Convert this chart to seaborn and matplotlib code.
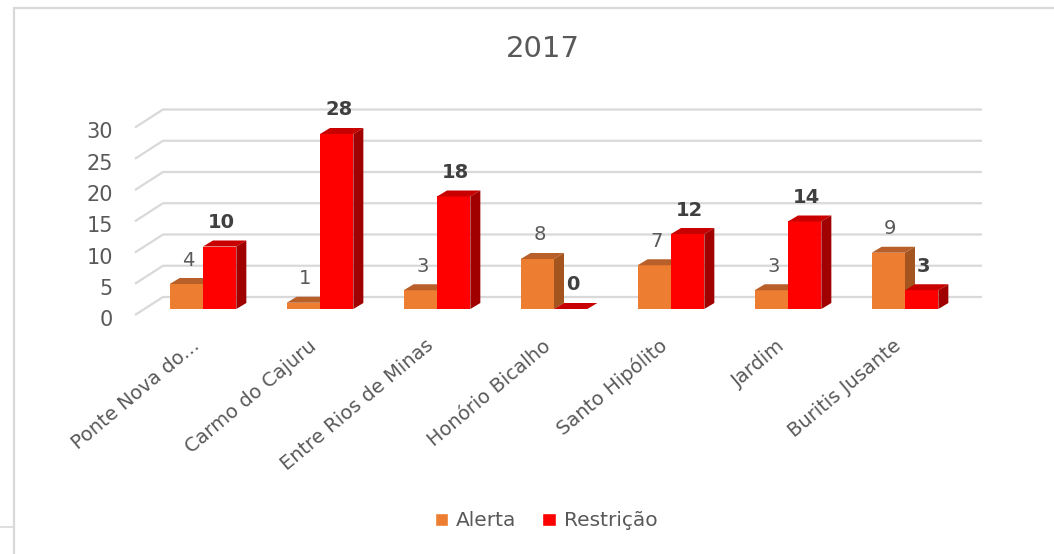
import matplotlib

matplotlib.use("Agg")
import matplotlib.pyplot as plt
import matplotlib.transforms as mtransforms
import pandas as pd
import seaborn as sns
from matplotlib.lines import Line2D
from matplotlib.patches import Polygon, Rectangle

# data
categories = [
    "Ponte Nova do...",
    "Carmo do Cajuru",
    "Entre Rios de Minas",
    "Honório Bicalho",
    "Santo Hipólito",
    "Jardim",
    "Buritis Jusante",
]
alerta = [4, 1, 3, 8, 7, 3, 9]
restricao = [10, 28, 18, 0, 12, 14, 3]
series = ["Alerta", "Restrição"]
y_ticks = [0, 5, 10, 15, 20, 25, 30]
title = "2017"

front_colors = {"Alerta": "#ED7D31", "Restrição": "#FF0000"}
top_colors = {"Alerta": "#B9602A", "Restrição": "#C80000"}
side_colors = {"Alerta": "#A4541F", "Restrição": "#A00000"}
label_style = {
    "Alerta": dict(color="#595959", fontweight="normal"),
    "Restrição": dict(color="#404040", fontweight="bold"),
}

TEXT = "#595959"
GRID = "#D9D9D9"
W, H, DPI = 1054, 554, 100
FS = 14.5

sns.set_theme(style="white")
plt.rcParams["font.family"] = ["DejaVu Sans"]

df = pd.DataFrame(
    {
        "local": categories * 2,
        "serie": [series[0]] * len(categories) + [series[1]] * len(categories),
        "valor": alerta + restricao,
    }
)

fig = plt.figure(figsize=(W / DPI, H / DPI), dpi=DPI)
# axes = front plane of the bars, 117 px per category, 6.25 px per unit
ax = fig.add_axes([144.5 / W, (H - 309) / H, 819 / W, 200 / H])
ax.set_facecolor("none")
sns.barplot(
    data=df,
    x="local",
    y="valor",
    hue="serie",
    hue_order=series,
    palette=front_colors,
    width=0.57,
    saturation=1,
    errorbar=None,
    ax=ax,
)
ax.set_xlim(-0.5, len(categories) - 0.5)
ax.set_ylim(0, 32)

px_x = 1 / 117
px_y = 1 / 6.25
ddx, ddy = 10 * px_x, 6 * px_y

# fake 3D: top and side faces for each bar
for k, (name, cont) in enumerate(zip(series, ax.containers)):
    for patch in cont:
        x0 = patch.get_x()
        x1 = x0 + patch.get_width()
        h = patch.get_height()
        patch.set_zorder(3 + 2 * k)
        patch.set_edgecolor("none")
        patch.set_clip_on(False)
        top = Polygon(
            [(x0, h), (x1, h), (x1 + ddx, h + ddy), (x0 + ddx, h + ddy)],
            closed=True, fc=top_colors[name], ec="none", zorder=3.5 + 2 * k, clip_on=False,
        )
        side = Polygon(
            [(x1, 0), (x1, h), (x1 + ddx, h + ddy), (x1 + ddx, ddy)],
            closed=True, fc=side_colors[name], ec="none", zorder=3.5 + 2 * k, clip_on=False,
        )
        ax.add_patch(top)
        ax.add_patch(side)

# value labels
for name, vals, cont in zip(series, [alerta, restricao], ax.containers):
    for patch, v in zip(cont, vals):
        ax.text(
            patch.get_x() + patch.get_width() / 2 + 2 * px_x,
            v + 24 * px_y,
            str(v),
            ha="center",
            va="center",
            fontsize=FS - 0.5,
            zorder=10,
            clip_on=False,
            **label_style[name],
        )

# gridlines on the back wall plus the slanted side wall
x_left, x_right = ax.get_xlim()
for v in y_ticks:
    xs = [x_left - 9.5 * px_x, x_left + 18.5 * px_x, x_right + 18.5 * px_x]
    ys = [v - 6 * px_y, v + 12 * px_y, v + 12 * px_y]
    ax.plot(xs, ys, color=GRID, lw=1.6, zorder=1, clip_on=False, solid_capstyle="butt")

sns.despine(ax=ax, left=True, bottom=True)
ax.set_xlabel("")
ax.set_ylabel("")
ax.set_yticks(y_ticks)
ax.set_xticks(range(len(categories)))
ax.set_xticklabels(categories)
ax.tick_params(axis="both", length=0, labelcolor=TEXT)
ax.tick_params(axis="y", pad=22.7, labelsize=FS + 0.5)
ax.tick_params(axis="x", pad=24.8, labelsize=FS - 0.5)
for lab in ax.get_xticklabels():
    lab.set_rotation(40)
    lab.set_ha("right")
    lab.set_va("center")
    lab.set_rotation_mode("anchor")
    lab.set_transform(
        lab.get_transform() + mtransforms.ScaledTranslation(-6 / DPI, 0, fig.dpi_scale_trans)
    )
for lab in ax.get_yticklabels():
    lab.set_transform(
        lab.get_transform() + mtransforms.ScaledTranslation(0, -9 / DPI, fig.dpi_scale_trans)
    )

fig.suptitle(title, x=543 / W, y=1 - 49 / H, va="center", fontsize=21, color=TEXT)

sns.move_legend(
    ax,
    "center",
    bbox_to_anchor=(546 / W, 1 - 521 / H),
    bbox_transform=fig.transFigure,
    ncol=2,
    frameon=False,
    title=None,
    fontsize=FS,
    handlelength=0.65,
    handleheight=0.65,
    handletextpad=0.4,
    columnspacing=1.3,
)
for t in ax.get_legend().get_texts():
    t.set_color(TEXT)

# chart frame
fig.add_artist(
    Rectangle((14 / W, -0.05), 1.2, (H - 8) / H + 0.05, transform=fig.transFigure,
              fill=False, ec=GRID, lw=1.6)
)
fig.add_artist(Line2D([0, 14 / W], [1 - 527 / H] * 2, transform=fig.transFigure, color=GRID, lw=1.2))

fig.savefig("out.png", dpi=DPI, facecolor="white")
plt.close(fig)
